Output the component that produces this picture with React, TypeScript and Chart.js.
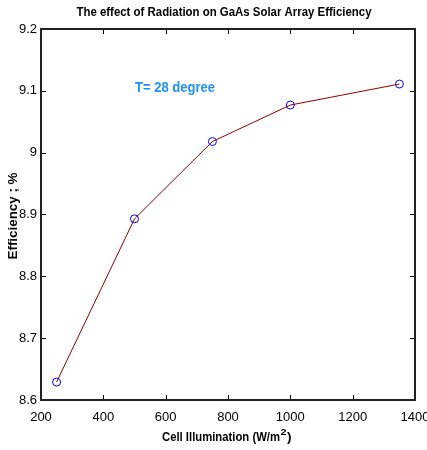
import React, { useEffect, useRef } from "react";
import { Chart, registerables } from "chart.js";

Chart.register(...registerables);

const illumination = [250, 500, 750, 1000, 1350];
const efficiency = [8.629, 8.893, 9.018, 9.077, 9.111];
const xTicks = [200, 400, 600, 800, 1000, 1200, 1400];
const yTicks = [8.6, 8.7, 8.8, 8.9, 9.0, 9.1, 9.2];
const titleText = "The effect of Radiation on GaAs Solar Array Efficiency";
const xTitleText = "Cell Illumination (W/m";
const yTitleText = "Efficiency ; %";
const annotationText = "T= 28 degree";

const FONT = "'Liberation Sans', Arial, sans-serif";

function fitText(ctx: CanvasRenderingContext2D, text: string, x: number, y: number, width: number, font: string, color: string, align: "left" | "center" = "center") {
  ctx.save();
  ctx.font = font;
  ctx.fillStyle = color;
  ctx.textBaseline = "middle";
  ctx.textAlign = "left";
  const w = ctx.measureText(text).width;
  const s = width / w;
  const left = align === "center" ? x - width / 2 : x;
  ctx.translate(left, y);
  ctx.scale(s, 1);
  ctx.fillText(text, 0, 0);
  ctx.restore();
}

const framePlugin = {
  id: "frame",
  afterDatasetsDraw(chart: any) {
    const { ctx, chartArea } = chart;
    const xs = chart.scales.x;
    const ys = chart.scales.y;
    const { left, right, top, bottom } = chartArea;
    ctx.save();
    ctx.strokeStyle = "#000";
    ctx.lineWidth = 1;
    ctx.beginPath();
    for (const v of xTicks) {
      const px = Math.round(xs.getPixelForValue(v)) + 0.5;
      ctx.moveTo(px, bottom);
      ctx.lineTo(px, bottom - 5);
      ctx.moveTo(px, top);
      ctx.lineTo(px, top + 5);
    }
    for (const v of yTicks) {
      const py = Math.round(ys.getPixelForValue(v)) + 0.5;
      ctx.moveTo(left, py);
      ctx.lineTo(left + 5, py);
      ctx.moveTo(right, py);
      ctx.lineTo(right - 5, py);
    }
    ctx.stroke();
    ctx.lineWidth = 2;
    ctx.strokeStyle = "#222";
    ctx.strokeRect(left, top, right - left, bottom - top);
    ctx.restore();

    // title
    fitText(ctx, titleText, 224, 13, 295, `bold 12px ${FONT}`, "#000");
    // x title with superscript
    const mainW = 118;
    const startX = 162;
    fitText(ctx, xTitleText, startX, 438, mainW, `bold 12px ${FONT}`, "#000", "left");
    fitText(ctx, "2", startX + mainW + 0.5, 433, 6, `bold 9px ${FONT}`, "#000", "left");
    fitText(ctx, ")", startX + mainW + 7, 438, 4.5, `bold 12px ${FONT}`, "#000", "left");
    // y title
    ctx.save();
    ctx.translate(14, 216);
    ctx.rotate(-Math.PI / 2);
    fitText(ctx, yTitleText, 0, 0, 87, `bold 12px ${FONT}`, "#000");
    ctx.restore();
    // annotation
    fitText(ctx, annotationText, 135, 88, 80, `bold 14px ${FONT}`, "#1E90FF", "left");
  },
};

export default function App() {
  const ref = useRef<HTMLCanvasElement | null>(null);
  useEffect(() => {
    document.body.style.margin = "0";
    const canvas = ref.current!;
    const chart = new Chart(canvas, {
      type: "line",
      data: {
        datasets: [
          {
            data: illumination.map((x, i) => ({ x, y: efficiency[i] })),
            borderColor: "#8B0000",
            borderWidth: 1,
            pointStyle: "circle",
            pointRadius: 4,
            pointBorderColor: "#0000FF",
            pointBackgroundColor: "rgba(0,0,0,0)",
            pointBorderWidth: 1,
            tension: 0,
            fill: false,
          },
        ],
      },
      options: {
        animation: false,
        responsive: false,
        maintainAspectRatio: false,
        layout: { padding: { left: 0, right: 12, top: 29, bottom: 0 } },
        plugins: { legend: { display: false }, tooltip: { enabled: false }, title: { display: false } },
        scales: {
          x: {
            type: "linear",
            min: 200,
            max: 1400,
            afterBuildTicks: (s: any) => {
              s.ticks = xTicks.map((v) => ({ value: v }));
            },
            afterFit: (s: any) => {
              s.height = 50;
              s.paddingLeft = 0;
              s.paddingRight = 0;
            },
            grid: { display: false, drawTicks: false },
            border: { display: false },
            ticks: {
              padding: 10,
              color: "#000",
              font: { family: FONT, size: 13 },
              maxRotation: 0,
              autoSkip: false,
              callback: (v: any) => String(v),
            },
          },
          y: {
            type: "linear",
            min: 8.6,
            max: 9.2,
            afterBuildTicks: (s: any) => {
              s.ticks = yTicks.map((v) => ({ value: v }));
            },
            afterFit: (s: any) => {
              s.width = 41;
              s.paddingTop = 0;
              s.paddingBottom = 0;
            },
            grid: { display: false, drawTicks: false },
            border: { display: false },
            ticks: {
              padding: 4,
              color: "#000",
              font: { family: FONT, size: 13 },
              autoSkip: false,
              callback: (v: any) => String(Math.round(Number(v) * 10) / 10),
            },
          },
        },
      },
      plugins: [framePlugin],
    });
    return () => chart.destroy();
  }, []);
  return (
    <div style={{ width: 427, height: 450, position: "relative", background: "#fff" }}>
      <canvas ref={ref} width={427} height={450} style={{ display: "block" }} />
    </div>
  );
}
